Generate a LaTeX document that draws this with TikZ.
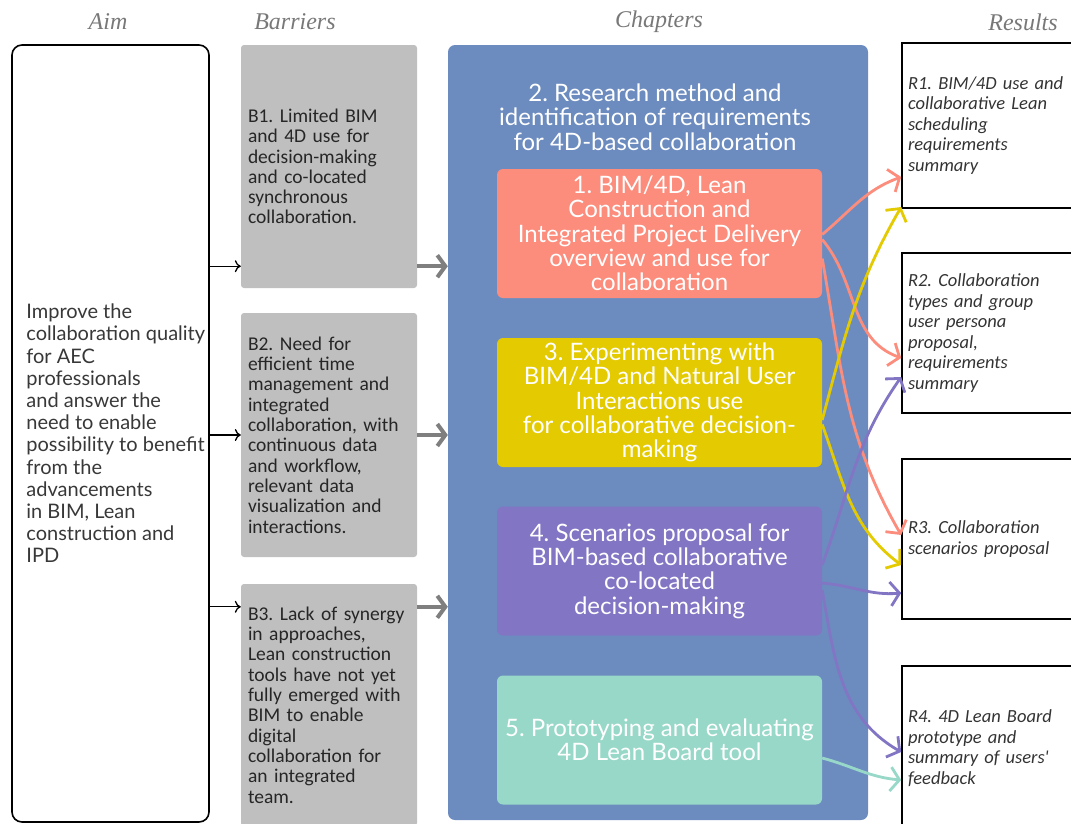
\documentclass[tikz,border=0pt]{standalone}
\usepackage{fontspec}
\setmainfont{Liberation Serif}
\newfontfamily\chapfont{Lato}
\newfontfamily\barfont{Carlito}
\usetikzlibrary{arrows.meta,positioning,calc}
\frenchspacing
\definecolor{barc}{RGB}{191,191,191}
\definecolor{chapc}{RGB}{108,140,192}
\definecolor{salc}{RGB}{252,140,124}
\definecolor{yelc}{RGB}{228,202,0}
\definecolor{purc}{RGB}{129,117,196}
\definecolor{tealc}{RGB}{152,216,200}
\definecolor{headc}{RGB}{120,120,120}
\definecolor{grarc}{RGB}{127,127,127}
\tikzset{head/.style={font=\fontsize{24}{26}\selectfont\itshape,text=headc},
 aimbox/.style={draw,line width=1.6pt,rounded corners=10pt,minimum width=197pt,minimum height=777pt},
 aimtxt/.style={align=left,inner sep=0pt,text=black!78,font=\chapfont\fontsize{20}{22.2}\selectfont},
 bar/.style={fill=barc,rounded corners=3pt,minimum width=176pt,text width=162pt,inner xsep=7pt,align=left,
  text=black!85,font=\barfont\fontsize{19.5}{20.3}\selectfont},
 res/.style={draw,line width=1.6pt,minimum width=183pt,text width=171pt,inner xsep=6pt,align=left,
  text=black!80,font=\barfont\itshape\fontsize{18.5}{20.5}\selectfont},
 chapbox/.style={fill=chapc,rounded corners=7pt,minimum width=420pt,minimum height=775pt},
 chap/.style={rounded corners=6pt,minimum width=325pt,minimum height=129pt,inner sep=0pt,text=white,align=center,
  font=\chapfont\fontsize{24}{24.3}\selectfont},
 blk/.style={-{To[length=6pt,width=12pt]},line width=1.3pt},
 grar/.style={grarc,-{Straight Barb[length=8pt,width=22pt]},line width=4pt},
 link/.style={line width=2.8pt,-{Straight Barb[length=9pt,width=24pt]}}}
\begin{document}
\begin{tikzpicture}[x=1pt,y=-1pt]
\useasboundingbox (0,0) rectangle (1071,823);
\clip (0,0) rectangle (1071,823);
% column heads
\node[head] (haim) at (108,22) {Aim};
\node[head] (hbar) at (295,22) {Barriers};
\node[head] (hchap) at (659,22) {Chapters};
\node[head] (hres) at (1023,22) {Results};
% aim
\node[aimbox] (aim) at (110.5,433.5) {};
\node[aimtxt,right=15pt of aim.west] (aimt) {Improve the\\collaboration quality\\for AEC\\professionals\\and answer the\\need to enable\\possibility to benefit\\from the\\advancements\\in BIM, Lean\\construction and\\IPD};
% barriers
\node[bar,minimum height=243pt] (b1) at (329,166.5) {B1. Limited BIM\\and 4D use for\\decision-making\\and co-located\\synchronous\\collaboration.};
\node[bar,minimum height=244pt] (b2) at (329,435) {B2. Need for\\efficient time\\management and\\integrated\\collaboration, with\\continuous data\\and workflow,\\relevant data\\visualization and\\interactions.};
\node[bar,minimum height=242pt] (b3) at (329,705) {B3. Lack of synergy\\in approaches,\\Lean construction\\tools have not yet\\fully emerged with\\BIM to enable\\digital\\collaboration for\\an integrated\\team.};
% chapters
\node[chapbox] (chbox) at (658,432.5) {};
\node[chap,minimum height=0pt] (c2) at (655,117) {2. Research method and\\identification of requirements\\for 4D-based collaboration};
\node[chap,fill=salc] (c1) at (659.5,233.5) {1. BIM/4D, Lean\\Construction and\\Integrated Project Delivery\\overview and use for\\collaboration};
\node[chap,fill=yelc] (c3) at (659.5,402.5) {3. Experimenting with\\BIM/4D and Natural User\\Interactions use\\for collaborative decision-\\making};
\node[chap,fill=purc] (c4) at (659.5,571) {4. Scenarios proposal for\\BIM-based collaborative\\co-located\\decision-making};
\node[chap,fill=tealc] (c5) at (659.5,740) {5. Prototyping and evaluating\\4D Lean Board tool};
% results
\node[res,minimum height=165pt] (r1) at (993.5,125.5) {R1. BIM/4D use and\\collaborative Lean\\scheduling\\requirements\\summary};
\node[res,minimum height=160pt] (r2) at (993.5,333) {R2. Collaboration\\types and group\\user persona\\proposal,\\requirements\\summary};
\node[res,minimum height=160pt] (r3) at (993.5,539) {R3. Collaboration\\scenarios proposal};
\node[res,minimum height=164pt] (r4) at (993.5,748) {R4. 4D Lean Board\\prototype and\\summary of users'\\feedback};
% aim -> barriers -> chapters
\coordinate (in1) at ([yshift=22pt]b1.south west);
\coordinate (in2) at (b2.west);
\coordinate (in3) at ([yshift=-23pt]b3.north west);
\foreach \i in {1,2,3}{
 \draw[blk] (aim.east |- in\i) -- (in\i);
 \draw[grar] (b\i.east |- in\i) -- (chbox.west |- in\i);
}
% chapters -> results
\draw[link,salc] ([yshift=-1pt]c1.east) to[out=40,in=200] ([yshift=-51.5pt]r1.west);
\draw[link,salc] ([yshift=-6pt]c1.east) to[out=-50,in=160] ([yshift=-25pt]r2.west);
\draw[link,salc] ([yshift=-25pt]c1.east) to[out=-80,in=120] ([yshift=4pt]r3.west);
\draw[link,yelc] ([yshift=-17.5pt]c3.east) to[out=75,in=240] ([yshift=-81.5pt]r1.west);
\draw[link,yelc] ([yshift=-22pt]c3.east) to[out=-70,in=143] ([yshift=-26pt]r3.west);
\draw[link,purc] ([yshift=6pt]c4.east) to[out=70,in=235] ([yshift=-44pt]r2.west);
\draw[link,purc] ([yshift=-12pt]c4.east) to[out=-5,in=185] ([yshift=-54pt]r3.west);
\draw[link,purc] ([yshift=-19pt]c4.east) to[out=-80,in=150] ([yshift=-4pt]r4.west);
\draw[link,tealc] ([yshift=-18pt]c5.east) to[out=-15,in=175] ([yshift=-32pt]r4.west);
\end{tikzpicture}
\end{document}
